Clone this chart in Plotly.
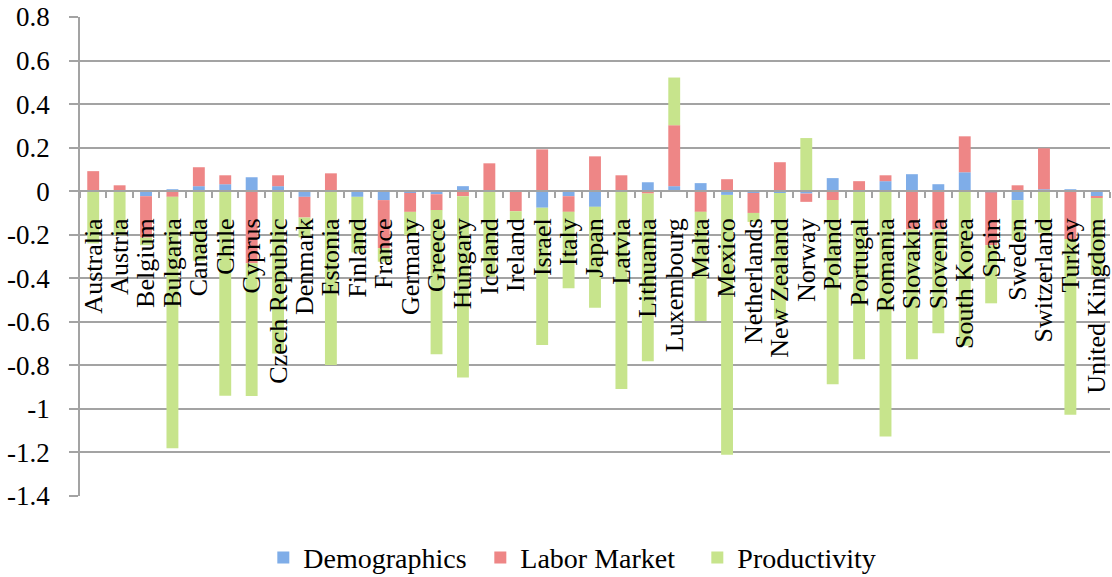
import plotly.graph_objects as go

countries = ["Australia", "Austria", "Belgium", "Bulgaria", "Canada", "Chile", "Cyprus",
             "Czech Republic", "Denmark", "Estonia", "Finland", "France", "Germany", "Greece",
             "Hungary", "Iceland", "Ireland", "Israel", "Italy", "Japan", "Latvia", "Lithuania",
             "Luxembourg", "Malta", "Mexico", "Netherlands", "New Zealand", "Norway", "Poland",
             "Portugal", "Romania", "Slovakia", "Slovenia", "South Korea", "Spain", "Sweden",
             "Switzerland", "Turkey", "United Kingdom"]

demographics = [0.0, 0.0, -0.023, 0.009, 0.023, 0.032, 0.064,
                0.023, -0.026, 0.0, -0.026, -0.041, -0.008, -0.014,
                0.023, 0.0, 0.0, -0.076, -0.023, -0.072, 0.0, 0.041,
                0.023, 0.037, -0.017, -0.008, -0.008, -0.011, 0.060,
                0.0, 0.046, 0.078, 0.032, 0.087, -0.005, -0.041,
                0.009, 0.009, -0.023]

labor_market = [0.092, 0.027, -0.190, -0.026, 0.087, 0.041, -0.331,
                0.050, -0.095, 0.082, 0.003, -0.221, -0.087, -0.073,
                -0.023, 0.128, -0.092, 0.192, -0.072, 0.160, 0.073, -0.011,
                0.280, -0.095, 0.055, -0.092, 0.133, -0.038, -0.041,
                0.046, 0.027, -0.176, -0.176, 0.165, -0.243, 0.027,
                0.188, -0.220, -0.008]

productivity = [-0.240, -0.202, -0.035, -1.155, -0.320, -0.940, -0.610,
                -0.745, -0.091, -0.798, -0.255, -0.062, -0.107, -0.662,
                -0.833, -0.393, -0.041, -0.630, -0.351, -0.463, -0.908, -0.770,
                0.219, -0.501, -1.194, -0.041, -0.580, 0.244, -0.846,
                -0.772, -1.127, -0.596, -0.477, -0.710, -0.267, -0.184,
                -0.191, -0.807, -0.354]

y_ticks = [0.8, 0.6, 0.4, 0.2, 0, -0.2, -0.4, -0.6, -0.8, -1, -1.2, -1.4]
y_tick_text = ["0.8", "0.6", "0.4", "0.2", "0", "-0.2", "-0.4", "-0.6", "-0.8", "-1", "-1.2", "-1.4"]

y_min, y_max = -1.4, 0.8
FONT = "Liberation Serif, Times New Roman, serif"
GRID = "#A3A3A3"

fig = go.Figure()
series = [("Demographics", demographics, "#7FADE8"),
          ("Labor Market", labor_market, "#EE8686"),
          ("Productivity", productivity, "#C7E48C")]
for name, vals, col in series:
    fig.add_trace(go.Bar(x=countries, y=vals, name=name,
                         marker=dict(color=col, line=dict(width=0))))

zero_pos = (0 - y_min) / (y_max - y_min)

fig.update_layout(
    width=1112, height=577,
    margin=dict(l=80, r=2, t=17, b=81, autoexpand=False),
    paper_bgcolor="white", plot_bgcolor="white",
    barmode="relative", bargap=0.55,
    font=dict(family=FONT, size=26, color="black"),
    legend=dict(orientation="h", x=0.494, xanchor="center", y=-0.129, yanchor="middle",
                font=dict(size=28), itemwidth=30, traceorder="normal",
                entrywidth=172, entrywidthmode="pixels"),
    xaxis=dict(anchor="free", position=zero_pos, showline=True, linecolor=GRID, linewidth=1.5,
               tickmode="linear", dtick=1, tick0=0, automargin=False,
               ticks="outside", tickson="boundaries", ticklen=6, tickcolor=GRID, tickwidth=1.5,
               tickangle=-90, ticklabelstandoff=16, showgrid=False, zeroline=False,
               tickfont=dict(size=26), fixedrange=True),
    yaxis=dict(range=[y_min, y_max], tickvals=y_ticks, ticktext=y_tick_text, automargin=False,
               showline=True, linecolor=GRID, linewidth=1.5, showgrid=True, gridcolor=GRID,
               gridwidth=1.5, zeroline=False, ticks="outside", ticklen=9, tickcolor=GRID,
               tickwidth=1.5, ticklabelstandoff=14, tickfont=dict(size=27)),
    showlegend=True,
)

fig.write_html("out.html", config={"displayModeBar": False},
               post_script="document.body.style.margin='0px';document.body.style.overflow='hidden';")
